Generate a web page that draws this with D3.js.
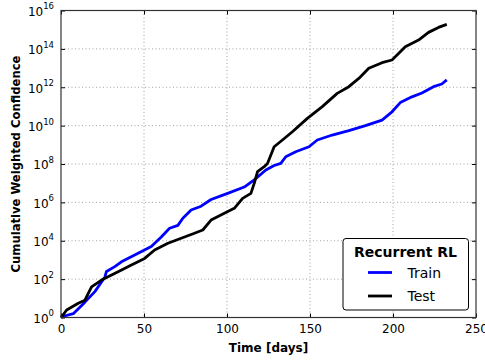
<!DOCTYPE html>
<html>
<head>
<meta charset="utf-8">
<script src="https://cdn.jsdelivr.net/npm/d3@7"></script>
<style>
  body { margin: 0; background: #fff; }
  svg text { font-family: "DejaVu Sans", sans-serif; }
</style>
</head>
<body>
<div id="chart"></div>
<script>
// days and log10 of cumulative weighted confidence
const trainDays = [0, 0.4, 7.4, 14.4, 20.4, 26.4, 27.4, 32.4, 36.4, 44.4, 54.4, 60.4, 65.4, 70.4, 73.4, 78.4, 84.4, 90.4, 100.4, 110.4, 116.4, 123.4, 128.4, 132.4, 135.4, 141.4, 149.4, 154.4, 163.4, 173.4, 183.4, 193.4, 199.4, 204.4, 211.4, 217.4, 224.4, 229.4, 232.4];
const trainExp  = [0, 0.04, 0.2, 0.8, 1.35, 2.1, 2.4, 2.65, 2.9, 3.26, 3.7, 4.2, 4.65, 4.8, 5.17, 5.6, 5.8, 6.15, 6.47, 6.8, 7.17, 7.69, 7.92, 8.03, 8.38, 8.64, 8.9, 9.25, 9.51, 9.74, 10.0, 10.29, 10.72, 11.2, 11.5, 11.7, 12.03, 12.17, 12.38];

const testDays = [0, 0.4, 3.4, 10.4, 14.4, 18.4, 24.4, 34.4, 42.4, 50.4, 56.4, 64.4, 72.4, 80.4, 85.4, 90.4, 98.4, 104.4, 109.4, 114.4, 116.4, 118.4, 122.4, 124.4, 128.4, 133.4, 139.4, 148.4, 157.4, 166.4, 173.4, 179.4, 185.4, 193.4, 199.4, 207.4, 215.4, 221.4, 227.4, 232.4];
const testExp  = [0, 0.04, 0.39, 0.74, 0.9, 1.6, 1.95, 2.39, 2.74, 3.08, 3.52, 3.87, 4.13, 4.39, 4.56, 5.08, 5.43, 5.69, 6.21, 6.47, 6.99, 7.6, 7.86, 8.03, 8.9, 9.25, 9.68, 10.38, 10.99, 11.68, 12.03, 12.46, 12.99, 13.28, 13.42, 14.11, 14.46, 14.86, 15.12, 15.28];

const xTicks = [0, 50, 100, 150, 200, 250];
const yTickExp = [0, 2, 4, 6, 8, 10, 12, 14, 16];

const W = 485, H = 362;
const margin = {top: 10.5, right: 9, bottom: 44.5, left: 61};
const width = W - margin.left - margin.right;
const height = H - margin.top - margin.bottom;

const svg = d3.select("#chart").append("svg")
  .attr("width", W).attr("height", H);

const g = svg.append("g")
  .attr("transform", "translate(" + margin.left + "," + margin.top + ")");

const x = d3.scaleLinear().domain([0, 250]).range([0, width]);
const y = d3.scaleLog().domain([1, 1e16]).range([height, 0]);

// dotted grid
g.selectAll("line.gx").data(xTicks.slice(1, -1)).enter().append("line")
  .attr("x1", d => x(d)).attr("x2", d => x(d))
  .attr("y1", 0).attr("y2", height)
  .attr("stroke", "#888").attr("stroke-width", 0.8)
  .attr("stroke-dasharray", "1,2.5");
g.selectAll("line.gy").data(yTickExp.slice(1, -1)).enter().append("line")
  .attr("x1", 0).attr("x2", width)
  .attr("y1", d => y(Math.pow(10, d))).attr("y2", d => y(Math.pow(10, d)))
  .attr("stroke", "#888").attr("stroke-width", 0.8)
  .attr("stroke-dasharray", "1,2.5");

// x axis, ticks pointing inward
const xAxis = g.append("g")
  .attr("transform", "translate(0," + height + ")")
  .call(d3.axisBottom(x).tickValues(xTicks).tickSizeInner(-4).tickSizeOuter(0).tickPadding(7));
xAxis.select(".domain").remove();
xAxis.selectAll("text").attr("font-size", 12).attr("fill", "#000")
  .attr("font-family", "DejaVu Sans");

const xTop = g.append("g")
  .call(d3.axisTop(x).tickValues(xTicks).tickSizeInner(-4).tickSizeOuter(0).tickFormat(""));
xTop.select(".domain").remove();

// y axis with 10^n labels
const yAxis = g.append("g")
  .call(d3.axisLeft(y).tickValues(yTickExp.map(e => Math.pow(10, e)))
    .tickSizeInner(-4).tickSizeOuter(0).tickPadding(6).tickFormat(""));
yAxis.select(".domain").remove();
yAxis.selectAll(".tick").each(function(d, i) {
  const t = d3.select(this).append("text")
    .attr("x", -7).attr("dy", "0.4em")
    .attr("text-anchor", "end").attr("fill", "#000")
    .attr("font-size", 12);
  t.append("tspan").text("10");
  t.append("tspan").attr("font-size", 8.5).attr("dy", "-0.75em").text(yTickExp[i]);
});

const yRight = g.append("g").attr("transform", "translate(" + width + ",0)")
  .call(d3.axisRight(y).tickValues(yTickExp.map(e => Math.pow(10, e)))
    .tickSizeInner(-4).tickSizeOuter(0).tickFormat(""));
yRight.select(".domain").remove();

g.selectAll(".tick line").attr("stroke", "#000");

// lines
const line = d3.line()
  .x(d => x(d[0]))
  .y(d => y(Math.pow(10, d[1])));

const train = d3.zip(trainDays, trainExp);
const test = d3.zip(testDays, testExp);

g.append("path").datum(train)
  .attr("fill", "none").attr("stroke", "#0000ff").attr("stroke-width", 2.8)
  .attr("stroke-linejoin", "round").attr("d", line);
g.append("path").datum(test)
  .attr("fill", "none").attr("stroke", "#000").attr("stroke-width", 2.8)
  .attr("stroke-linejoin", "round").attr("d", line);

// frame
g.append("rect").attr("x", 0).attr("y", 0)
  .attr("width", width).attr("height", height)
  .attr("fill", "none").attr("stroke", "#333").attr("stroke-width", 1.2);

// axis labels
svg.append("text")
  .attr("x", margin.left + width / 2).attr("y", 352)
  .attr("text-anchor", "middle").attr("font-size", 12).attr("font-weight", "bold")
  .text("Time [days]");
svg.append("text")
  .attr("transform", "translate(20," + (margin.top + height / 2) + ") rotate(-90)")
  .attr("text-anchor", "middle").attr("font-size", 11.6).attr("font-weight", "bold")
  .text("Cumulative Weighted Confidence");

// legend
const leg = svg.append("g").attr("transform", "translate(343,238.5)");
leg.append("rect").attr("width", 125.5).attr("height", 71.5)
  .attr("rx", 3).attr("fill", "#fff").attr("stroke", "#000").attr("stroke-width", 1);
leg.append("text").attr("x", 62.5).attr("y", 18.5)
  .attr("text-anchor", "middle").attr("font-size", 14).attr("font-weight", "bold")
  .text("Recurrent RL");
const items = [{name: "Train", color: "#0000ff"}, {name: "Test", color: "#000"}];
items.forEach((it, i) => {
  const yy = 34 + i * 23.5;
  leg.append("line").attr("x1", 25).attr("x2", 49)
    .attr("y1", yy).attr("y2", yy)
    .attr("stroke", it.color).attr("stroke-width", 2.8);
  leg.append("text").attr("x", 64.5).attr("y", yy + 5)
    .attr("font-size", 14).text(it.name);
});
</script>
</body>
</html>
